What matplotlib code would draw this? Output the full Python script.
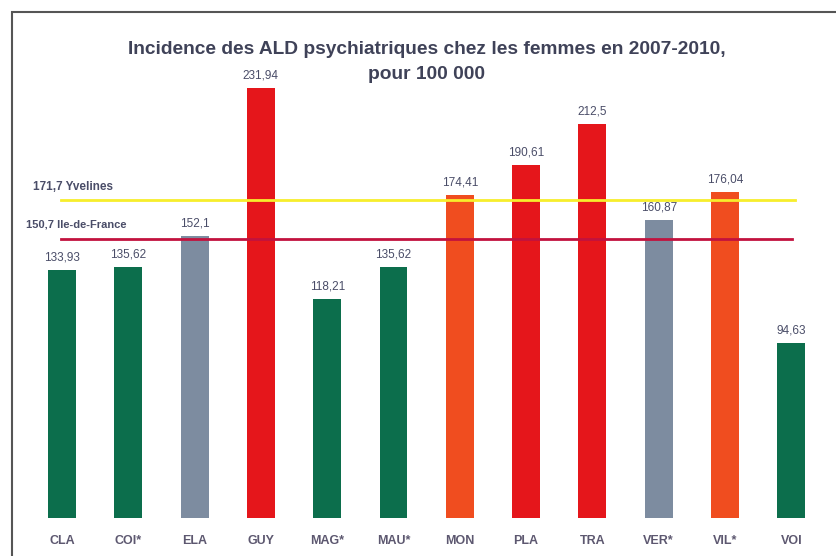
import matplotlib.pyplot as plt
import numpy as np
from matplotlib.patches import Rectangle

plt.rcParams['font.family'] = ['Liberation Sans', 'DejaVu Sans']

communes = ['CLA', 'COI*', 'ELA', 'GUY', 'MAG*', 'MAU*', 'MON', 'PLA', 'TRA', 'VER*', 'VIL*', 'VOI']
values = [133.93, 135.62, 152.1, 231.94, 118.21, 135.62, 174.41, 190.61, 212.5, 160.87, 176.04, 94.63]
value_labels = ['133,93', '135,62', '152,1', '231,94', '118,21', '135,62', '174,41', '190,61',
                '212,5', '160,87', '176,04', '94,63']
groups = ['vert', 'vert', 'gris', 'rouge', 'vert', 'vert', 'orange', 'rouge', 'rouge', 'gris', 'orange', 'vert']
yvelines = 171.7
idf = 150.7

palette = {'vert': '#0c6e4c', 'gris': '#7d8ca0', 'rouge': '#e5161b', 'orange': '#f04d1f'}
txt = '#4a4d68'

fig = plt.figure(figsize=(8.37, 5.56), dpi=100)
# cadre gris (coupé à droite et en bas comme sur le scan)
fig.patches.append(Rectangle((12 / 837, -20 / 556), 1.0, 564 / 556, transform=fig.transFigure,
                             fill=False, edgecolor='#555555', linewidth=1.5))
ax = fig.add_axes([28.85 / 837, 38 / 556, 795.6 / 837, 463.5 / 556])

x = np.arange(len(communes))
ax.bar(x, values, width=0.42, color=[palette[g] for g in groups], zorder=2)

ax.plot([-0.015, 11.06], [yvelines, yvelines], color='#f7ee2c', lw=2, zorder=3)
ax.plot([-0.015, 11.01], [idf, idf], color='#c2123e', lw=2, zorder=3)
ax.text(-0.437, yvelines + 7, '171,7 Yvelines', color=txt, fontsize=8.5, fontweight='bold',
        ha='left', va='center')
ax.text(-0.543, idf + 7.5, '150,7 Ile-de-France', color=txt, fontsize=8, fontweight='bold',
        ha='left', va='center')

for i, v in enumerate(values):
    ax.text(i, v + 6.5, value_labels[i], ha='center', va='center', fontsize=8.5, color=txt)

ax.set_xlim(-0.5, 11.5)
ax.set_ylim(0, 250)
ax.set_xticks(x)
ax.set_xticklabels(communes, fontsize=9, color='#5d5870', fontweight='bold')
ax.tick_params(axis='x', length=0, pad=12)
ax.set_yticks([])
for s in ax.spines.values():
    s.set_visible(False)

fig.text(427 / 837, 1 - 50 / 556, 'Incidence des ALD psychiatriques chez les femmes en 2007-2010,',
         ha='center', va='center', fontsize=13.8, fontweight='bold', color='#3f4258')
fig.text(427 / 837, 1 - 74 / 556, 'pour 100 000', ha='center', va='center', fontsize=13.8,
         fontweight='bold', color='#3f4258')

fig.savefig('out.png', dpi=100)
